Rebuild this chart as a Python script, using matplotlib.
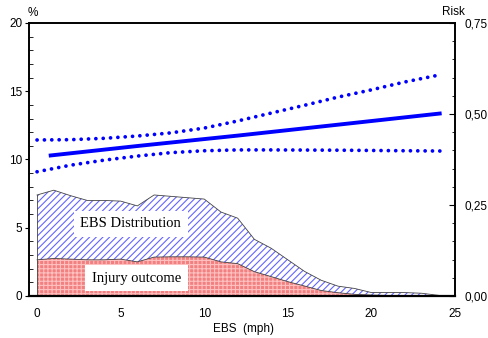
import matplotlib.pyplot as plt
from matplotlib.ticker import MultipleLocator, FixedLocator, FuncFormatter

plt.rcParams['font.family'] = ['Liberation Sans', 'DejaVu Sans']
plt.rcParams['hatch.linewidth'] = 0.8

# EBS distribution and injury outcome, percent of cases per 1 mph bin
ebs = [0, 1, 2, 3, 4, 5, 6, 7, 8, 9, 10, 11, 12, 13, 14, 15, 16, 17, 18, 19, 20, 21, 22, 23, 24]
dist_pct = [7.4, 7.75, 7.35, 7.0, 7.0, 6.95, 6.6, 7.4, 7.3, 7.2, 7.1, 6.15, 5.7, 4.15, 3.5, 2.65,
            1.8, 1.15, 0.72, 0.55, 0.25, 0.25, 0.25, 0.2, 0.05]
injury_pct = [2.65, 2.75, 2.7, 2.65, 2.65, 2.7, 2.5, 2.85, 2.87, 2.87, 2.85, 2.5, 2.37, 1.78, 1.42, 1.05,
              0.73, 0.4, 0.24, 0.12, 0.07, 0.04, 0.03, 0.02, 0.0]

# fitted risk with confidence band (right axis, 0..0.75)
risk_x = [0.7, 6, 12, 18, 24.2]
risk_fit = [0.3855, 0.412, 0.4406, 0.4706, 0.5018]
band_x = [0, 2, 4, 6, 8, 10, 12, 14, 16, 18, 20, 22, 24.1]
band_hi = [0.4286, 0.4294, 0.4331, 0.4395, 0.4481, 0.4613, 0.4808, 0.5025, 0.5239, 0.5464, 0.5663, 0.588, 0.6075]
band_lo = [0.3413, 0.3593, 0.3731, 0.3844, 0.3938, 0.399, 0.4013, 0.4013, 0.4009, 0.4005, 0.3998, 0.399, 0.3983]

fig = plt.figure(figsize=(4.89, 3.38), dpi=100)
ax = fig.add_axes([0.0587, 0.1243, 0.8718, 0.8077])
ax2 = ax.twinx()

ax.fill_between(ebs, 0, dist_pct, facecolor='white', edgecolor='#6464ff', hatch='/////', linewidth=0)
ax.fill_between(ebs, 0, injury_pct, facecolor='#f28080', edgecolor='#ffc0c0', hatch='++++', linewidth=0)
ax.plot(ebs, dist_pct, color='#444444', lw=0.6)
ax.plot(ebs, injury_pct, color='#444444', lw=0.6)
ax.plot([ebs[0], ebs[0]], [0, dist_pct[0]], color='#444444', lw=0.6)

ax.text(5.6, 5.3, 'EBS Distribution', family=['Liberation Serif'], fontsize=10.5,
        ha='center', va='center', bbox=dict(boxstyle='square,pad=0.45', fc='white', ec='none'))
ax.text(5.95, 1.3, 'Injury outcome', family=['Liberation Serif'], fontsize=10.5,
        ha='center', va='center', bbox=dict(boxstyle='square,pad=0.45', fc='white', ec='none'))

ax2.plot(risk_x, risk_fit, color='#0000ff', lw=2.8, solid_capstyle='butt')
for band in (band_hi, band_lo):
    ax2.plot(band_x, band, color='#0000ff', lw=2.7, linestyle=(0, (0.01, 1.95)),
             dash_capstyle='round')

ax.set_xlim(-0.5, 25)
ax.set_ylim(0, 20)
ax2.set_ylim(0, 0.75)

ax.xaxis.set_major_locator(FixedLocator([0, 5, 10, 15, 20, 25]))
ax.yaxis.set_major_locator(MultipleLocator(5))
ax.yaxis.set_minor_locator(MultipleLocator(1))
ax2.yaxis.set_major_locator(MultipleLocator(0.25))
ax2.yaxis.set_minor_locator(MultipleLocator(0.05))
ax2.yaxis.set_major_formatter(FuncFormatter(lambda v, p: f'{v:.2f}'.replace('.', ',')))

ax.tick_params(axis='x', length=0, pad=9, labelsize=8.5)
ax.tick_params(axis='y', which='major', direction='out', length=3, width=0.8, pad=1.5, labelsize=8.5)
ax.tick_params(axis='y', which='minor', direction='in', length=3, width=0.6)
ax2.tick_params(axis='y', which='major', direction='in', length=4, width=0.8, pad=7, labelsize=8.5)
ax2.tick_params(axis='y', which='minor', direction='in', length=2, width=0.6)

for a in (ax, ax2):
    for s in a.spines.values():
        s.set_linewidth(1.2)
ax.spines['bottom'].set_linewidth(1.6)

ax.set_xlabel('EBS  (mph)', fontsize=8.5)
ax.xaxis.set_label_coords(0.505, -0.1)
fig.text(33 / 489, 1 - 13 / 338, '%', fontsize=8.5, ha='center', va='center')
fig.text(453 / 489, 1 - 12 / 338, 'Risk', fontsize=8.5, ha='center', va='center')

fig.savefig('out.png', dpi=100)
